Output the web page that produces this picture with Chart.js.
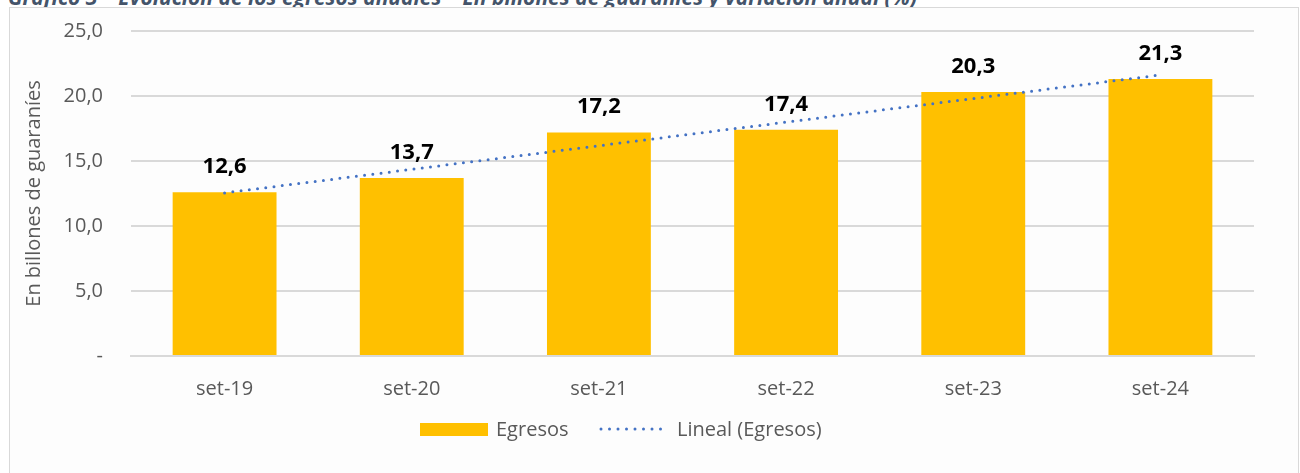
<!DOCTYPE html>
<html>
<head>
<meta charset="utf-8">
<script src="https://cdn.jsdelivr.net/npm/chart.js@4"></script>
<style>
  html, body { margin: 0; padding: 0; background: #ffffff; width: 1300px; height: 473px; overflow: hidden; }
  #title { position: absolute; left: 8px; top: -17px; font: italic bold 21px "Open Sans", sans-serif; color: #44546a; white-space: nowrap; }
  #frame { position: absolute; left: 9px; top: 7px; width: 1288px; height: 480px; border: 1.5px solid #d9d9d9; background: #fdfdfd; }
  #c { position: absolute; left: 0; top: 0; }
</style>
</head>
<body>
<div id="title">Gráfico 3 – Evolución de los egresos anuales – En billones de guaraníes y variación anual (%)</div>
<div id="frame"></div>
<canvas id="c" width="1300" height="473"></canvas>
<script>
// ---- data ----
const categories = ["set-19", "set-20", "set-21", "set-22", "set-23", "set-24"];
const egresos = [12.6, 13.7, 17.2, 17.4, 20.3, 21.3];
const yTicks = [0, 5, 10, 15, 20, 25];
const seriesLabels = ["Egresos", "Lineal (Egresos)"];
const axisTitle = "En billones de guaraníes";

// Excel-style linear trendline (least squares over category index 1..n)
const n = egresos.length;
const xs = egresos.map((_, i) => i + 1);
const mx = xs.reduce((a, b) => a + b, 0) / n;
const my = egresos.reduce((a, b) => a + b, 0) / n;
let sxy = 0, sxx = 0;
xs.forEach((x, i) => { sxy += (x - mx) * (egresos[i] - my); sxx += (x - mx) * (x - mx); });
const slope = sxy / sxx, intercept = my - slope * mx;
const trend = xs.map(x => intercept + slope * x);

const fmt = v => v === 0 ? "-" : v.toFixed(1).replace(".", ",");
const FONT = "'Open Sans', sans-serif";

const labelPlugin = {
  id: "barLabels",
  afterDatasetsDraw(chart) {
    const ctx = chart.ctx;
    const meta = chart.getDatasetMeta(1);
    ctx.save();
    ctx.font = "bold 22px " + FONT;
    ctx.fillStyle = "#000000";
    ctx.textAlign = "center";
    ctx.textBaseline = "alphabetic";
    meta.data.forEach((el, i) => {
      ctx.fillText(fmt(egresos[i]), el.x, el.y - 19);
    });
    ctx.restore();
  }
};

const legendPlugin = {
  id: "customLegend",
  afterDraw(chart) {
    const ctx = chart.ctx;
    const y = 430;
    ctx.save();
    ctx.font = "20px " + FONT;
    ctx.textBaseline = "middle";
    ctx.fillStyle = "#ffc000";
    ctx.fillRect(420, y - 7, 68, 13);
    ctx.fillStyle = "#595959";
    ctx.fillText(seriesLabels[0], 496, y);
    ctx.strokeStyle = "#4472c4";
    ctx.lineWidth = 3;
    ctx.lineCap = "round";
    ctx.setLineDash([0, 8.5]);
    ctx.beginPath();
    ctx.moveTo(601, y - 1);
    ctx.lineTo(669, y - 1);
    ctx.stroke();
    ctx.setLineDash([]);
    ctx.fillText(seriesLabels[1], 677, y);
    ctx.restore();
  }
};

new Chart(document.getElementById("c"), {
  data: {
    labels: categories,
    datasets: [
      {
        type: "line",
        label: seriesLabels[1],
        data: trend,
        borderColor: "#4472c4",
        borderWidth: 3,
        borderDash: [0, 8.3],
        borderCapStyle: "round",
        pointRadius: 0,
        fill: false,
        order: 0
      },
      {
        type: "bar",
        label: seriesLabels[0],
        data: egresos,
        backgroundColor: "#ffc000",
        barPercentage: 0.555,
        categoryPercentage: 1,
        order: 1
      }
    ]
  },
  options: {
    responsive: false,
    animation: false,
    devicePixelRatio: 1,
    layout: { padding: { top: 31, right: 46, left: 0, bottom: 0 } },
    plugins: {
      legend: { display: false },
      tooltip: { enabled: false },
      title: { display: false }
    },
    scales: {
      x: {
        grid: { display: false, drawTicks: false },
        border: { display: true, color: "#d9d9d9", width: 2 },
        ticks: { color: "#595959", font: { family: FONT, size: 20 }, padding: 21 },
        afterFit(s) { s.height = 117; }
      },
      y: {
        min: 0, max: 25,
        afterBuildTicks(s) { s.ticks = yTicks.map(v => ({ value: v })); },
        grid: { color: "#d9d9d9", lineWidth: 2, drawTicks: false },
        border: { display: false },
        ticks: { color: "#595959", font: { family: FONT, size: 20 }, padding: 28, callback: v => fmt(v) },
        title: { display: true, text: axisTitle, color: "#595959", font: { family: FONT, size: 20 }, padding: { top: 22, bottom: 0 } },
        afterFit(s) { s.width = 131; s.paddingTop = 10; s.paddingBottom = 10; }
      }
    }
  },
  plugins: [labelPlugin, legendPlugin]
});
</script>
</body>
</html>
